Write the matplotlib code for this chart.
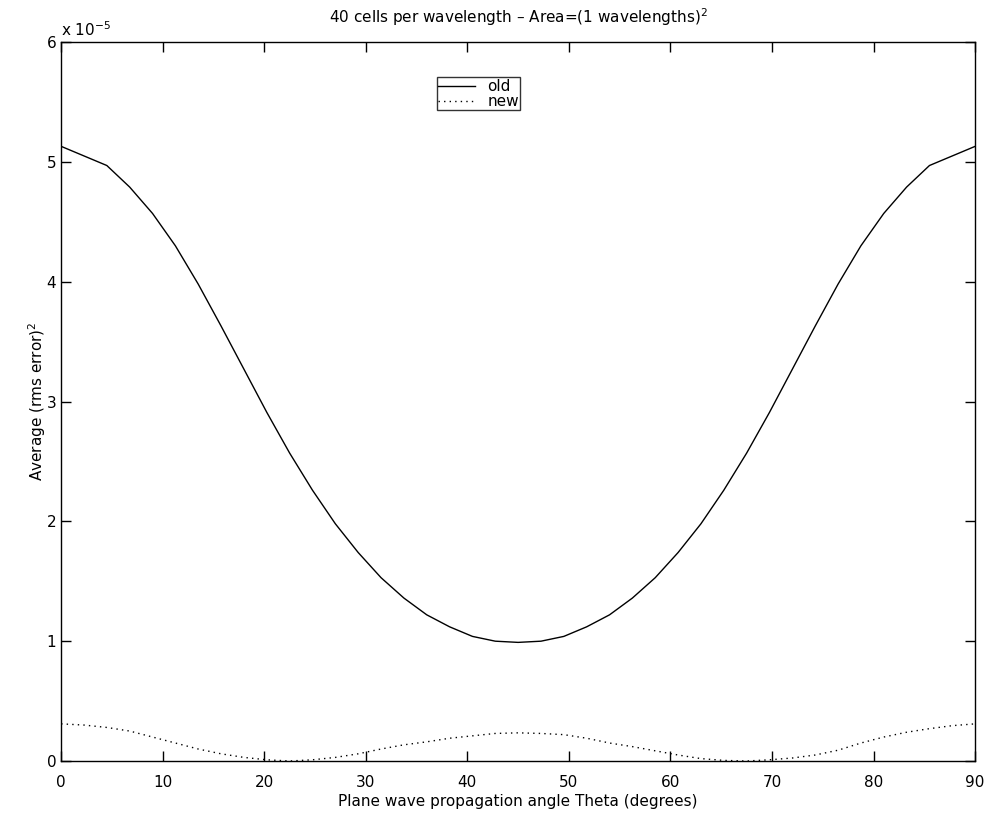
import numpy as np
import matplotlib
matplotlib.use("Agg")
import matplotlib.pyplot as plt

plt.rcParams['font.family'] = ['DejaVu Sans']
plt.rcParams['font.size'] = 11

# angle samples (degrees)
theta = [0, 2.25, 4.5, 6.75, 9, 11.25, 13.5, 15.75, 18, 20.25, 22.5,
         24.75, 27, 29.25, 31.5, 33.75, 36, 38.25, 40.5, 42.75, 45,
         47.25, 49.5, 51.75, 54, 56.25, 58.5, 60.75, 63, 65.25, 67.5,
         69.75, 72, 74.25, 76.5, 78.75, 81, 83.25, 85.5, 87.75, 90]

# values in units of 1e-5
old_err = [5.13, 5.05, 4.97, 4.79, 4.57, 4.30, 3.98, 3.63, 3.27, 2.91, 2.57,
           2.26, 1.98, 1.74, 1.53, 1.36, 1.22, 1.12, 1.04, 1.00, 0.99,
           1.00, 1.04, 1.12, 1.22, 1.36, 1.53, 1.74, 1.98, 2.26, 2.57,
           2.91, 3.27, 3.63, 3.98, 4.30, 4.57, 4.79, 4.97, 5.05, 5.13]
new_err = [0.31, 0.30, 0.28, 0.25, 0.20, 0.15, 0.10, 0.06, 0.03, 0.01, 0.0,
           0.01, 0.03, 0.06, 0.10, 0.135, 0.16, 0.19, 0.21, 0.23, 0.235,
           0.23, 0.22, 0.19, 0.15, 0.12, 0.085, 0.05, 0.02, 0.005, 0.0,
           0.01, 0.025, 0.05, 0.09, 0.15, 0.20, 0.24, 0.27, 0.295, 0.31]

fig = plt.figure(figsize=(9.86, 8.16), dpi=100)
ax = fig.add_axes([0.062, 0.0674, 0.927, 0.881])

ax.plot(theta, old_err, color='black', lw=1.0, ls='-', label='old')
ax.plot(theta, new_err, color='black', lw=1.0, ls=(0, (1, 3)), label='new')

ax.set_xlim(0, 90)
ax.set_ylim(0, 6)
ax.set_xticks(np.arange(0, 91, 10))
ax.set_yticks(np.arange(0, 7, 1))
ax.tick_params(direction='in', length=7, width=1, top=True, right=True, labelsize=11)
ax.tick_params(axis='x', pad=10)
for s in ax.spines.values():
    s.set_linewidth(1.0)

ax.set_title('40 cells per wavelength \u2013 Area=(1 wavelengths)$^2$', fontsize=11, pad=14)
ax.set_xlabel('Plane wave propagation angle Theta (degrees)', fontsize=11)
ax.set_ylabel('Average (rms error)$^2$', fontsize=11)
ax.xaxis.set_label_coords(0.5, -0.046)
ax.yaxis.set_label_coords(-0.014, 0.5)
ax.text(0.0, 1.004, 'x 10$^{-5}$', transform=ax.transAxes, fontsize=11,
        ha='left', va='bottom')

leg = ax.legend(loc='upper left', bbox_to_anchor=(0.411, 0.951), fontsize=11,
                frameon=True, fancybox=False, edgecolor='black',
                handlelength=2.4, borderpad=0.1, labelspacing=0.0,
                handletextpad=0.8, borderaxespad=0)
leg.get_frame().set_linewidth(1.0)

fig.savefig('out.png', dpi=100)
